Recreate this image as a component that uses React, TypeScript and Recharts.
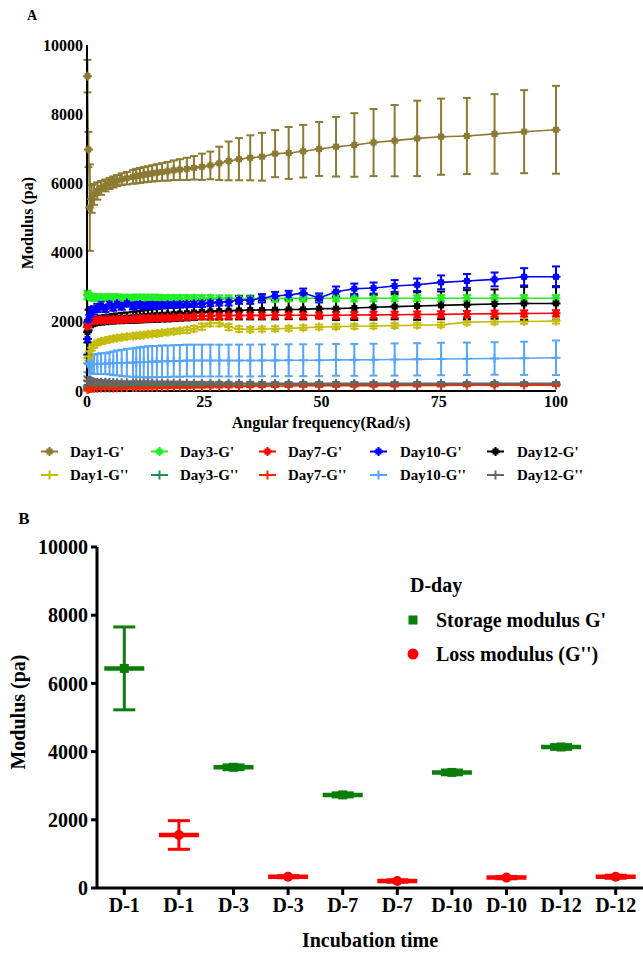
import React from "react";
import { LineChart, Line, XAxis, YAxis, ErrorBar, ComposedChart, Scatter } from "recharts";

const FONT = "'Liberation Serif', 'Times New Roman', serif";

// ---------- panel A : frequency sweep ----------
// angular frequency (rad/s)
const freq = [
  0.1, 0.3, 0.6, 1.0, 1.5, 2.2, 3.0, 3.9,
  4.8, 5.6, 6.4, 7.4, 8.5, 9.8,
  10.5, 11.3, 12.1, 13.0, 13.9, 14.9,
  16.0, 17.2, 18.5, 19.8, 21.3, 22.8,
  24.5, 26.3, 28.2, 30.2, 32.4, 34.8,
  37.3, 40.1, 43.0, 46.1, 49.5, 53.1,
  57.0, 61.1, 65.6, 70.4, 75.5, 81.0,
  86.9, 93.2, 100,
];

const day1G1 = [
  9100, 6980, 5300, 5550, 5680, 5780, 5870, 5940,
  6000, 6040, 6080, 6120, 6150, 6190,
  6210, 6230, 6250, 6270, 6290, 6310,
  6330, 6350, 6380, 6400, 6420, 6450,
  6480, 6520, 6580, 6650, 6700, 6740,
  6770, 6860, 6880, 6930, 6995, 7060,
  7110, 7180, 7235, 7300, 7350, 7370,
  7430, 7495, 7550,
];
const day1G1Err = [
  470, 510, 1250, 400, 300, 250, 200, 170,
  160, 160, 160, 170, 180, 200,
  210, 215, 220, 225, 235, 245,
  255, 270, 285, 300, 320, 340,
  380, 400, 480, 560, 610, 650,
  690, 680, 750, 760, 780, 860,
  920, 970, 1030, 1090, 1100, 1100,
  1150, 1200, 1270,
];
const day1G2 = [
  1900, 1000, 1150, 1250, 1330, 1390, 1430, 1460,
  1490, 1510, 1530, 1550, 1570, 1590,
  1600, 1610, 1620, 1640, 1650, 1660,
  1680, 1700, 1720, 1740, 1760, 1800,
  1860, 1960, 1960, 1850, 1790, 1780,
  1790, 1800, 1810, 1830, 1850, 1860,
  1870, 1880, 1890, 1900, 1910, 1990,
  2000, 2010, 2020,
];
const day1G2Err = [
  950, 120, 90, 80, 80, 70, 70, 70,
  70, 70, 70, 70, 70, 70,
  70, 70, 70, 70, 70, 70,
  70, 70, 70, 70, 80, 80,
  90, 90, 90, 90, 80, 70,
  70, 70, 70, 70, 70, 70,
  70, 70, 70, 70, 70, 70,
  70, 70, 70,
];
const day3G1 = [
  2780, 2740, 2720, 2710, 2700, 2700, 2700, 2700,
  2700, 2700, 2700, 2690, 2690, 2690,
  2690, 2690, 2690, 2690, 2690, 2690,
  2680, 2680, 2680, 2680, 2680, 2680,
  2680, 2680, 2670, 2670, 2670, 2670,
  2670, 2670, 2680, 2680, 2680, 2680,
  2680, 2680, 2680, 2680, 2680, 2680,
  2680, 2680, 2680,
];
const day3G1Err = [
  120, 100, 90, 90, 90, 90, 90, 90,
  90, 90, 90, 90, 90, 90,
  90, 90, 90, 90, 90, 90,
  90, 90, 90, 90, 90, 90,
  90, 90, 90, 90, 90, 90,
  90, 90, 90, 90, 90, 90,
  90, 90, 90, 90, 90, 90,
  90, 90, 90,
];
const day3G2 = [
  120, 130, 140, 145, 150, 150, 155, 155,
  160, 160, 160, 160, 160, 160,
  165, 165, 165, 165, 165, 165,
  170, 170, 170, 170, 170, 170,
  175, 175, 175, 175, 175, 175,
  180, 180, 180, 180, 180, 180,
  185, 185, 185, 185, 185, 185,
  190, 190, 190,
];
const day3G2Err = [
  30, 30, 30, 30, 30, 30, 30, 30,
  30, 30, 30, 30, 30, 30,
  30, 30, 30, 30, 30, 30,
  30, 30, 30, 30, 30, 30,
  30, 30, 30, 30, 30, 30,
  30, 30, 30, 30, 30, 30,
  30, 30, 30, 30, 30, 30,
  30, 30, 30,
];
const day7G1 = [
  1850, 1950, 2000, 2020, 2030, 2040, 2050, 2055,
  2060, 2065, 2070, 2075, 2080, 2085,
  2090, 2095, 2100, 2105, 2110, 2115,
  2120, 2125, 2130, 2140, 2150, 2160,
  2170, 2175, 2180, 2180, 2185, 2185,
  2185, 2190, 2190, 2190, 2180, 2190,
  2195, 2200, 2205, 2210, 2215, 2225,
  2235, 2240, 2245,
];
const day7G1Err = [
  120, 100, 90, 90, 90, 90, 90, 90,
  90, 90, 90, 90, 90, 90,
  90, 90, 90, 90, 90, 90,
  90, 90, 90, 90, 90, 90,
  90, 90, 90, 90, 90, 90,
  90, 90, 90, 90, 90, 90,
  90, 90, 90, 90, 90, 90,
  90, 90, 90,
];
const day7G2 = [
  40, 60, 70, 75, 80, 80, 85, 85,
  90, 90, 95, 95, 100, 100,
  100, 105, 105, 110, 110, 110,
  115, 115, 120, 120, 120, 125,
  125, 130, 130, 135, 135, 140,
  140, 145, 145, 150, 150, 150,
  155, 155, 160, 160, 160, 165,
  165, 170, 170,
];
const day7G2Err = [
  30, 30, 30, 30, 30, 30, 30, 30,
  30, 30, 30, 30, 30, 30,
  30, 30, 30, 30, 30, 30,
  30, 30, 30, 30, 30, 30,
  30, 30, 30, 30, 30, 30,
  30, 30, 30, 30, 30, 30,
  30, 30, 30, 30, 30, 30,
  30, 30, 30,
];
const day10G1 = [
  1500, 2050, 2200, 2280, 2330, 2400, 2470, 2380,
  2500, 2420, 2520, 2450, 2540, 2460,
  2480, 2500, 2460, 2470, 2480, 2470,
  2480, 2490, 2490, 2500, 2510, 2520,
  2530, 2550, 2570, 2580, 2630, 2630,
  2680, 2745, 2775, 2830, 2690, 2870,
  2955, 2975, 3035, 3070, 3140, 3180,
  3225, 3300, 3300,
];
const day10G1Err = [
  450, 300, 200, 150, 120, 120, 120, 100,
  100, 100, 100, 100, 100, 100,
  90, 90, 90, 90, 90, 90,
  90, 90, 90, 90, 90, 90,
  100, 100, 100, 110, 110, 110,
  120, 120, 120, 130, 130, 150,
  150, 160, 170, 180, 200, 200,
  200, 250, 300,
];
const day10G2 = [
  800, 780, 770, 770, 780, 780, 790, 790,
  800, 800, 810, 810, 820, 820,
  830, 830, 840, 840, 850, 850,
  860, 860, 870, 870, 880, 880,
  880, 880, 880, 880, 880, 880,
  885, 885, 890, 890, 890, 900,
  900, 905, 910, 915, 925, 930,
  940, 945, 960,
];
const day10G2Err = [
  250, 250, 260, 270, 280, 290, 300, 300,
  320, 340, 360, 380, 400, 410,
  420, 430, 440, 450, 450, 450,
  455, 455, 455, 460, 460, 460,
  460, 460, 460, 460, 460, 460,
  460, 460, 460, 460, 460, 460,
  460, 460, 465, 465, 470, 470,
  470, 480, 500,
];
const day12G1 = [
  1700, 1900, 1960, 1990, 2010, 2030, 2050, 2060,
  2080, 2090, 2100, 2110, 2120, 2130,
  2140, 2150, 2160, 2170, 2180, 2190,
  2200, 2210, 2220, 2240, 2250, 2270,
  2290, 2300, 2310, 2320, 2330, 2340,
  2340, 2350, 2355, 2360, 2380, 2380,
  2400, 2420, 2440, 2455, 2475, 2495,
  2515, 2530, 2530,
];
const day12G1Err = [
  300, 150, 120, 120, 120, 120, 130, 130,
  130, 140, 140, 150, 150, 160,
  160, 170, 170, 180, 180, 190,
  190, 200, 200, 210, 210, 220,
  220, 230, 240, 250, 260, 270,
  270, 280, 280, 290, 250, 330,
  350, 360, 370, 400, 400, 420,
  420, 480, 500,
];
const day12G2 = [
  300, 280, 270, 260, 255, 250, 250, 250,
  245, 245, 240, 240, 240, 240,
  235, 235, 235, 235, 230, 230,
  230, 230, 230, 230, 225, 225,
  225, 225, 225, 225, 225, 225,
  220, 220, 220, 220, 220, 220,
  220, 220, 220, 220, 220, 220,
  220, 220, 220,
];
const day12G2Err = [
  120, 110, 100, 90, 80, 70, 60, 60,
  40, 40, 40, 40, 40, 40,
  40, 40, 40, 40, 40, 40,
  40, 40, 40, 40, 40, 40,
  40, 40, 40, 40, 40, 40,
  40, 40, 40, 40, 40, 40,
  40, 40, 40, 40, 40, 40,
  40, 40, 40,
];

type Kind = "G1" | "G2";
interface SeriesA { key: string; name: string; color: string; kind: Kind; values: number[]; errors: number[] }

// legend order (two rows of five)
const seriesA: SeriesA[] = [
  { key: "d1g1", name: "Day1-G'", color: "#8C7A33", kind: "G1", values: day1G1, errors: day1G1Err },
  { key: "d3g1", name: "Day3-G'", color: "#22EE22", kind: "G1", values: day3G1, errors: day3G1Err },
  { key: "d7g1", name: "Day7-G'", color: "#FF0000", kind: "G1", values: day7G1, errors: day7G1Err },
  { key: "d10g1", name: "Day10-G'", color: "#0000FF", kind: "G1", values: day10G1, errors: day10G1Err },
  { key: "d12g1", name: "Day12-G'", color: "#000000", kind: "G1", values: day12G1, errors: day12G1Err },
  { key: "d1g2", name: "Day1-G''", color: "#C4BC08", kind: "G2", values: day1G2, errors: day1G2Err },
  { key: "d3g2", name: "Day3-G''", color: "#1E8F50", kind: "G2", values: day3G2, errors: day3G2Err },
  { key: "d7g2", name: "Day7-G''", color: "#FF2200", kind: "G2", values: day7G2, errors: day7G2Err },
  { key: "d10g2", name: "Day10-G''", color: "#55A5FF", kind: "G2", values: day10G2, errors: day10G2Err },
  { key: "d12g2", name: "Day12-G''", color: "#666666", kind: "G2", values: day12G2, errors: day12G2Err },
];
// painting order, bottom first
const drawOrder = ["d3g2", "d7g2", "d12g2", "d10g2", "d1g2", "d3g1", "d12g1", "d7g1", "d10g1", "d1g1"];

const rowsA = freq.map((f, i) => {
  const row: Record<string, number> = { f };
  seriesA.forEach((s) => {
    row[s.key] = s.values[i];
    row[s.key + "_e"] = s.errors[i];
  });
  return row;
});

// ---------- panel B : moduli by day ----------
const dayLabels = ["D-1", "D-1", "D-3", "D-3", "D-7", "D-7", "D-10", "D-10", "D-12", "D-12"];
const storageMean = [6440, 3540, 2730, 3390, 4135];
const storageSD = [1215, 70, 60, 70, 70];
const lossMean = [1555, 330, 205, 305, 330];
const lossSD = [420, 30, 35, 35, 45];

const storageRows = storageMean.map((y, i) => ({ x: i * 2, y, e: storageSD[i] }));
const lossRows = lossMean.map((y, i) => ({ x: i * 2 + 1, y, e: lossSD[i] }));

// ---------- marks ----------
function Marker({ cx, cy, color, kind }: { cx: number; cy: number; color: string; kind: Kind }) {
  if (cx == null || cy == null || isNaN(cx) || isNaN(cy)) return null;
  if (kind === "G1") {
    return (
      <g>
        <rect x={cx - 3} y={cy - 3} width={6} height={6} fill={color} />
        <path d={`M${cx - 4.5},${cy}H${cx + 4.5}M${cx},${cy - 4.5}V${cy + 4.5}`} stroke={color} strokeWidth={2} />
      </g>
    );
  }
  return <path d={`M${cx - 4.5},${cy}H${cx + 4.5}M${cx},${cy - 4.5}V${cy + 4.5}`} stroke={color} strokeWidth={2} />;
}

function MeanMark(props: any, color: string, square: boolean) {
  const { cx, cy } = props;
  if (cx == null || cy == null) return <g />;
  return (
    <g>
      <line x1={cx - 20} x2={cx + 20} y1={cy} y2={cy} stroke={color} strokeWidth={4.5} />
      {square ? (
        <rect x={cx - 4.5} y={cy - 4.5} width={9} height={9} fill={color} />
      ) : (
        <circle cx={cx} cy={cy} r={5} fill={color} />
      )}
    </g>
  );
}

function Txt({ x, y, size, children, rotate }: { x: number; y: number; size: number; children: React.ReactNode; rotate?: boolean }) {
  return (
    <div
      style={{
        position: "absolute",
        left: x,
        top: y,
        transform: `translate(-50%, -50%)${rotate ? " rotate(-90deg)" : ""}`,
        whiteSpace: "nowrap",
        fontSize: size,
        fontWeight: 700,
        lineHeight: 1,
      }}
    >
      {children}
    </div>
  );
}

const legendIconX = [41, 151, 259, 370, 487];
const legendTextX = [70, 180, 288, 400, 517];

export default function App() {
  const tickA = { fontSize: 16, fontWeight: 700, fill: "#000", fontFamily: FONT };
  const tickB = { fontSize: 20, fontWeight: 700, fill: "#000", fontFamily: FONT };
  return (
    <div style={{ position: "absolute", left: 0, top: 0, width: 643, height: 953, background: "#fff", fontFamily: FONT, color: "#000", overflow: "hidden" }}>
      <div style={{ position: "absolute", left: 0, top: 0 }}>
        <LineChart width={643} height={500} data={rowsA} margin={{ top: 45, right: 87, bottom: 79, left: 0 }}>
          <XAxis
            dataKey="f"
            type="number"
            domain={[0, 100]}
            ticks={[0, 25, 50, 75, 100]}
            tickLine={false}
            tickSize={2}
            tickMargin={3}
            height={30}
            axisLine={{ stroke: "#000", strokeWidth: 2 }}
            tick={tickA}
          />
          <YAxis
            type="number"
            domain={[0, 10000]}
            ticks={[0, 2000, 4000, 6000, 8000, 10000]}
            width={87}
            tickLine={false}
            tickSize={2}
            tickMargin={2}
            axisLine={{ stroke: "#000", strokeWidth: 2 }}
            tick={tickA}
          />
          {drawOrder.map((k) => {
            const s = seriesA.find((q) => q.key === k)!;
            return (
              <Line
                key={s.key}
                dataKey={s.key}
                name={s.name}
                type="linear"
                stroke={s.color}
                strokeWidth={1.6}
                isAnimationActive={false}
                activeDot={false}
                dot={(p: any) => <Marker key={p.index} cx={p.cx} cy={p.cy} color={s.color} kind={s.kind} />}
              >
                <ErrorBar dataKey={s.key + "_e"} direction="y" width={4} strokeWidth={2} stroke={s.color} />
              </Line>
            );
          })}
        </LineChart>
      </div>

      {/* panel A legend */}
      <svg style={{ position: "absolute", left: 0, top: 430 }} width={643} height={60}>
        {seriesA.map((s, i) => {
          const col = i % 5;
          const row = Math.floor(i / 5);
          const cy = row === 0 ? 21.5 : 45;
          const x0 = legendIconX[col];
          return (
            <g key={s.key}>
              <line x1={x0} x2={x0 + 17} y1={cy} y2={cy} stroke={s.color} strokeWidth={2} />
              <Marker cx={x0 + 8.5} cy={cy} color={s.color} kind={s.kind} />
              <text x={legendTextX[col]} y={cy + 5} fontSize={15} fontWeight={700} fontFamily={FONT} fill="#000">
                {s.name}
              </text>
            </g>
          );
        })}
      </svg>

      <Txt x={32} y={16} size={14}>A</Txt>
      <Txt x={28} y={223} size={16} rotate>Modulus (pa)</Txt>
      <Txt x={321} y={423} size={16}>Angular frequency(Rad/s)</Txt>

      <div style={{ position: "absolute", left: 0, top: 500 }}>
        <ComposedChart width={643} height={453} margin={{ top: 47, right: 0, bottom: 25, left: 0 }}>
          <XAxis
            dataKey="x"
            type="number"
            domain={[-0.5, 9.5]}
            ticks={[0, 1, 2, 3, 4, 5, 6, 7, 8, 9]}
            tickFormatter={(v: number) => dayLabels[v]}
            height={40}
            tickSize={7}
            tickMargin={3}
            tickLine={{ stroke: "#000", strokeWidth: 3 }}
            axisLine={{ stroke: "#000", strokeWidth: 3 }}
            tick={tickB}
            allowDataOverflow
          />
          <YAxis
            dataKey="y"
            type="number"
            domain={[0, 10000]}
            ticks={[0, 2000, 4000, 6000, 8000, 10000]}
            width={97}
            tickSize={6}
            tickMargin={3}
            tickLine={{ stroke: "#000", strokeWidth: 3 }}
            axisLine={{ stroke: "#000", strokeWidth: 3 }}
            tick={tickB}
          />
          <Scatter
            name="Storage modulus G'"
            data={storageRows}
            isAnimationActive={false}
            shape={(p: any) => MeanMark(p, "#0A7D0A", true)}
          >
            <ErrorBar dataKey="e" direction="y" width={11} strokeWidth={3} stroke="#0A7D0A" />
          </Scatter>
          <Scatter
            name="Loss modulus (G'')"
            data={lossRows}
            isAnimationActive={false}
            shape={(p: any) => MeanMark(p, "#FF0000", false)}
          >
            <ErrorBar dataKey="e" direction="y" width={11} strokeWidth={3} stroke="#FF0000" />
          </Scatter>
        </ComposedChart>
      </div>

      {/* panel B legend */}
      <svg style={{ position: "absolute", left: 400, top: 565 }} width={243} height={110}>
        <text x={10} y={27} fontSize={20} fontWeight={700} fontFamily={FONT} fill="#000">D-day</text>
        <rect x={8.5} y={50.5} width={9} height={9} fill="#0A7D0A" />
        <text x={36} y={62} fontSize={20} fontWeight={700} fontFamily={FONT} fill="#000">Storage modulus G'</text>
        <circle cx={13} cy={89} r={5.5} fill="#FF0000" />
        <text x={36} y={96} fontSize={20} fontWeight={700} fontFamily={FONT} fill="#000">Loss modulus (G'')</text>
      </svg>

      <Txt x={24} y={518} size={17}>B</Txt>
      <Txt x={18} y={712} size={20} rotate>Modulus (pa)</Txt>
      <Txt x={370} y={940} size={20}>Incubation time</Txt>
    </div>
  );
}
